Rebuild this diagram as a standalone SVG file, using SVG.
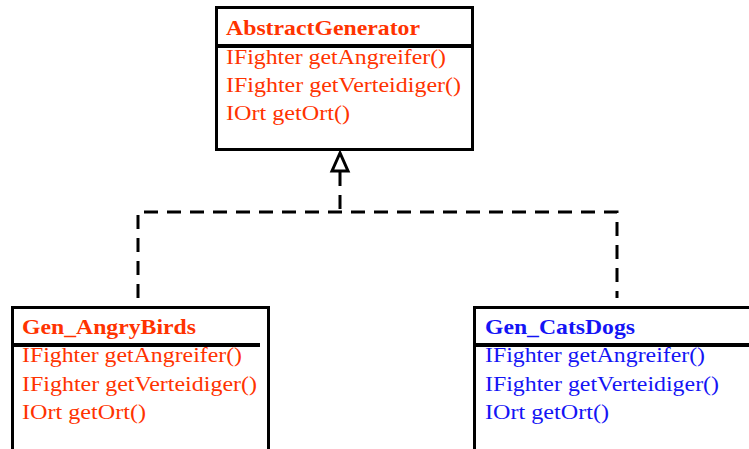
<svg xmlns="http://www.w3.org/2000/svg" width="749" height="449" viewBox="0 0 749 449">
<style>
.box{fill:#fff;stroke:#000;stroke-width:3}
.div{stroke:#000;stroke-width:4}
.t{font-family:"Liberation Serif","Times New Roman",serif;font-size:22px}
.b{font-weight:bold}
.red{fill:#ff3300}
.blue{fill:#1414f5}
.conn{fill:none;stroke:#000;stroke-width:3;stroke-dasharray:14 9}
</style>
<rect width="749" height="449" fill="#fff"/>
<g id="connectors">
<path class="conn" d="M340 172 V212 M138 298 V212 H617 V298"/>
<polygon points="340,153 332,171 348,171" fill="#fff" stroke="#000" stroke-width="3"/>
</g>
<g id="AbstractGenerator">
<rect class="box" x="216.5" y="7.5" width="256" height="142"/>
<line class="div" x1="216" y1="46" x2="473" y2="46"/>
<text class="t b red" x="226" y="35" textLength="194" lengthAdjust="spacingAndGlyphs">AbstractGenerator</text>
<text class="t red" x="226" y="64" textLength="220" lengthAdjust="spacingAndGlyphs">IFighter getAngreifer()</text>
<text class="t red" x="226" y="92" textLength="235" lengthAdjust="spacingAndGlyphs">IFighter getVerteidiger()</text>
<text class="t red" x="226" y="120" textLength="124" lengthAdjust="spacingAndGlyphs">IOrt getOrt()</text>
</g>
<g id="Gen_AngryBirds">
<rect class="box" x="12.5" y="307.5" width="256" height="160"/>
<line class="div" x1="12" y1="345" x2="260" y2="345"/>
<text class="t b red" x="22" y="334" textLength="174" lengthAdjust="spacingAndGlyphs">Gen_AngryBirds</text>
<text class="t red" x="22" y="362" textLength="220" lengthAdjust="spacingAndGlyphs">IFighter getAngreifer()</text>
<text class="t red" x="22" y="391" textLength="235" lengthAdjust="spacingAndGlyphs">IFighter getVerteidiger()</text>
<text class="t red" x="22" y="419" textLength="124" lengthAdjust="spacingAndGlyphs">IOrt getOrt()</text>
</g>
<g id="Gen_CatsDogs">
<rect class="box" x="474.5" y="307.5" width="300" height="160"/>
<line class="div" x1="474" y1="345" x2="749" y2="345"/>
<text class="t b blue" x="485" y="334" textLength="150" lengthAdjust="spacingAndGlyphs">Gen_CatsDogs</text>
<text class="t blue" x="485" y="362" textLength="220" lengthAdjust="spacingAndGlyphs">IFighter getAngreifer()</text>
<text class="t blue" x="485" y="391" textLength="234" lengthAdjust="spacingAndGlyphs">IFighter getVerteidiger()</text>
<text class="t blue" x="485" y="419" textLength="124" lengthAdjust="spacingAndGlyphs">IOrt getOrt()</text>
</g>
</svg>
